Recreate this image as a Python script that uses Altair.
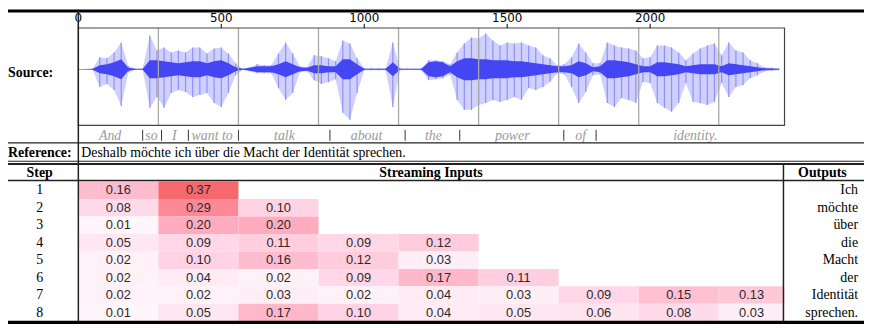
import altair as alt
import pandas as pd

# ---------------- data ----------------
# waveform envelope (pixel amplitude above / below the zero line), sampled every 25 units
wave_t = list(range(0, 2451, 25))
wave_up = [0.3, 0.3, 0.5, 12, 11, 17, 27, 3, 0.5, 0.5,
           34, 19, 22, 17, 19, 17, 22, 22, 16, 21,
           22, 16, 6, 0.5, 2, 5, 4, 4, 16, 27,
           16, 3, 2, 14, 13, 11, 8, 29, 26, 11,
           1, 1, 1, 1, 27, 1, 0.5, 0.5, 1, 9,
           9, 8, 5, 17, 26, 32, 31, 36, 29, 24,
           27, 26, 27, 24, 22, 14, 11, 4, 5, 12,
           26, 17, 6, 6, 27, 24, 22, 21, 19, 11,
           12, 24, 24, 22, 17, 9, 16, 21, 24, 26,
           14, 27, 19, 17, 9, 6, 2, 1.5, 1]
wave_lo = [0.3, 0.3, 0.5, 18, 15, 21, 37, 3, 0.5, 0.5,
           39, 28, 39, 24, 21, 23, 28, 26, 24, 34,
           38, 24, 6, 0.5, 2, 4, 4, 4, 19, 31,
           24, 3, 2, 11, 15, 13, 10, 44, 51, 24,
           1, 1, 1, 1, 38, 1, 0.5, 0.5, 1, 11,
           10, 9, 5, 31, 41, 41, 36, 34, 31, 33,
           31, 28, 31, 19, 21, 18, 13, 4, 5, 18,
           34, 23, 6, 5, 34, 38, 29, 31, 34, 13,
           14, 34, 39, 43, 34, 14, 33, 34, 36, 33,
           14, 28, 18, 16, 9, 6, 2, 1.5, 1]
wave_core = [0.3, 0.3, 0.4, 4, 5, 7, 10, 1.5, 0.4, 0.4,
             9, 9, 8, 7, 6, 7, 8, 8, 6, 8,
             9, 6, 2, 0.4, 1.5, 3, 3, 3, 5, 8,
             5, 2, 1.5, 4, 4, 3, 3, 10, 10, 5,
             0.6, 0.6, 0.6, 0.6, 7, 0.6, 0.4, 0.4, 0.6, 7,
             8, 7, 3, 8, 11, 11, 10, 10, 9, 9,
             9, 8, 8, 7, 6, 5, 4, 3, 3, 4,
             8, 6, 2, 3, 9, 9, 8, 7, 5, 3,
             3, 7, 7, 6, 5, 3, 4, 5, 5, 5,
             3, 6, 5, 4, 3, 2, 1, 0.8, 0.5]

chunk_edges = [0, 280, 560, 840, 1120, 1400, 1680, 1960, 2240, 2470]
axis_ticks = [0, 500, 1000, 1500, 2000]

words = ["And", "so", "I", "want to", "talk", "about", "the", "power", "of", "identity."]
word_pos = [111, 256, 336, 468, 721, 1008, 1242, 1518, 1757, 2158]
word_bars = [225, 291, 385, 560, 880, 1143, 1334, 1698, 1811]

reference = "Deshalb möchte ich über die Macht der Identität sprechen."
steps = [1, 2, 3, 4, 5, 6, 7, 8]
attn = [
    [0.16, 0.37],
    [0.08, 0.29, 0.10],
    [0.01, 0.20, 0.20],
    [0.05, 0.09, 0.11, 0.09, 0.12],
    [0.02, 0.10, 0.16, 0.12, 0.03],
    [0.02, 0.04, 0.02, 0.09, 0.17, 0.11],
    [0.02, 0.02, 0.03, 0.02, 0.04, 0.03, 0.09, 0.15, 0.13],
    [0.01, 0.05, 0.17, 0.10, 0.04, 0.05, 0.06, 0.08, 0.03],
]
outputs = ["Ich", "möchte", "über", "die", "Macht", "der", "Identität", "sprechen."]

# ---------------- tables ----------------
wdf = pd.DataFrame({"t": wave_t, "up": wave_up,
                    "lo": [-v for v in wave_lo],
                    "cu": wave_core, "cl": [-v for v in wave_core]})

cells = []
for s, row in zip(steps, attn):
    for j, v in enumerate(row):
        x0, x1 = chunk_edges[j], chunk_edges[j + 1]
        cells.append({"x0": x0, "x1": x1, "xm": (x0 + x1) / 2,
                      "r0": s - 1, "r1": s, "rm": s - 0.5,
                      "v": v, "lab": f"{v:.2f}"})
cdf = pd.DataFrame(cells)
sdf = pd.DataFrame({"step": [str(s) for s in steps], "rm": [s - 0.5 for s in steps], "out": outputs})
tdf = pd.DataFrame({"t": axis_ticks, "lab": [str(t) for t in axis_ticks]})

W, H = 864, 322
XS = alt.Scale(domain=[-246, 2748], nice=False, zero=False)
WAVE_Y = alt.Scale(domain=[-60, 60], range=[120.3, 0.3], nice=False, zero=False)
ROW_Y = alt.Scale(domain=[0, 8], range=[173.7, 314.7], nice=False, zero=False)

one = pd.DataFrame({"k": [0]})
SERIF = "Liberation Serif"


def hline(y, x0=0, x1=W, w=1.0, c="#222"):
    return alt.Chart(one).mark_rule(color=c, strokeWidth=w).encode(
        x=alt.value(x0), x2=alt.value(x1), y=alt.value(y))


def vline(x, y0, y1, w=1.0, c="#222"):
    return alt.Chart(one).mark_rule(color=c, strokeWidth=w).encode(
        x=alt.value(x), y=alt.value(y0), y2=alt.value(y1))


def label(txt, x, y, size=14, bold=False, align="center", font=SERIF, color="#000"):
    kw = dict(font=font, fontSize=size, align=align, baseline="middle", color=color)
    if bold:
        kw["fontWeight"] = "bold"
    return alt.Chart(pd.DataFrame({"t": [txt]})).mark_text(**kw).encode(
        text="t:N", x=alt.value(x), y=alt.value(y))


# waveform
outer = alt.Chart(wdf).mark_area(color="#cfd0fd", interpolate="linear").encode(
    x=alt.X("t:Q", scale=XS, axis=None),
    y=alt.Y("up:Q", scale=WAVE_Y, axis=None), y2="lo:Q")
spikes = alt.Chart(wdf).mark_rule(color="#8e90f7", strokeWidth=1.2).encode(
    x=alt.X("t:Q", scale=XS, axis=None),
    y=alt.Y("up:Q", scale=WAVE_Y, axis=None), y2="lo:Q")
core = alt.Chart(wdf).mark_area(color="#4446f3", interpolate="linear").encode(
    x=alt.X("t:Q", scale=XS, axis=None),
    y=alt.Y("cu:Q", scale=WAVE_Y, axis=None), y2="cl:Q")

grid = alt.Chart(pd.DataFrame({"g": chunk_edges[1:-1]})).mark_rule(
    color="#a8a8a8", strokeWidth=1.3).encode(
    x=alt.X("g:Q", scale=XS, axis=None), y=alt.value(18.7), y2=alt.value(117))

box = alt.Chart(pd.DataFrame({"a": [chunk_edges[0]], "b": [chunk_edges[-1]]})).mark_rect(
    fillOpacity=0, stroke="#444", strokeWidth=1.2).encode(
    x=alt.X("a:Q", scale=XS, axis=None), x2="b:Q", y=alt.value(18.7), y2=alt.value(117))

# top axis: ticks and labels placed through the shared x scale
ticks = alt.Chart(tdf).mark_rule(color="#000", strokeWidth=1).encode(
    x=alt.X("t:Q", scale=XS, axis=None), y=alt.value(14.5), y2=alt.value(18.7))
tick_lab = alt.Chart(tdf).mark_text(font="DejaVu Sans", fontSize=12, color="#000",
                                    baseline="alphabetic").encode(
    text="lab:N", x=alt.X("t:Q", scale=XS, axis=None), y=alt.value(12.8))

word_txt = alt.Chart(pd.DataFrame({"w": words, "p": word_pos})).mark_text(
    font=SERIF, fontStyle="italic", fontSize=14, color="#9a9a9a", baseline="middle").encode(
    text="w:N", x=alt.X("p:Q", scale=XS, axis=None), y=alt.value(127.5))
bars = alt.Chart(pd.DataFrame({"p": word_bars})).mark_rule(color="#333", strokeWidth=1).encode(
    x=alt.X("p:Q", scale=XS, axis=None), y=alt.value(121.5), y2=alt.value(132.5))

heat = alt.Chart(cdf).mark_rect().encode(
    x=alt.X("x0:Q", scale=XS, axis=None), x2="x1:Q",
    y=alt.Y("r0:Q", scale=ROW_Y, axis=None), y2="r1:Q",
    color=alt.Color("v:Q", scale=alt.Scale(domain=[0, 0.37], range=["#fefafc", "#f5686c"]),
                    legend=None))
heat_txt = alt.Chart(cdf).mark_text(font="Liberation Sans", fontSize=13, color="#2a2a2a",
                                    baseline="middle").encode(
    text="lab:N", x=alt.X("xm:Q", scale=XS, axis=None),
    y=alt.Y("rm:Q", scale=ROW_Y, axis=None))
step_txt = alt.Chart(sdf).mark_text(font=SERIF, fontSize=14, color="#000", baseline="middle").encode(
    text="step:N", x=alt.value(32), y=alt.Y("rm:Q", scale=ROW_Y, axis=None))
out_txt = alt.Chart(sdf).mark_text(font=SERIF, fontSize=14, color="#000", baseline="middle",
                                   align="right").encode(
    text="out:N", x=alt.value(858), y=alt.Y("rm:Q", scale=ROW_Y, axis=None))

layers = [
    outer, spikes, core, grid, box, ticks, tick_lab, word_txt, bars,
    heat, heat_txt, step_txt, out_txt,
    label("Source:", 0, 64, bold=True, align="left"),
    label("Reference:", 0, 144.5, bold=True, align="left"),
    label(reference, 74, 144.5, align="left"),
    label("Step", 32, 165, bold=True),
    label("Streaming Inputs", 427, 165, bold=True),
    label("Outputs", 822, 165, bold=True),
    hline(1.5, w=3, c="#000"),
    hline(134.7, w=1.2),
    hline(153.2, w=1.2),
    hline(156.0, w=2.0),
    hline(172.7, w=1.5),
    hline(315.8, w=3.2, c="#000"),
    vline(71, 0, 315, w=1.5),
    vline(782.7, 155, 315, w=1.5),
]

chart = alt.layer(*layers).resolve_scale(y="independent").properties(
    width=W, height=H, autosize=alt.AutoSizeParams(type="none"), padding=0,
    background="white").configure_view(stroke=None)

chart.save("out.html", embed_options={"renderer": "svg", "actions": False})
